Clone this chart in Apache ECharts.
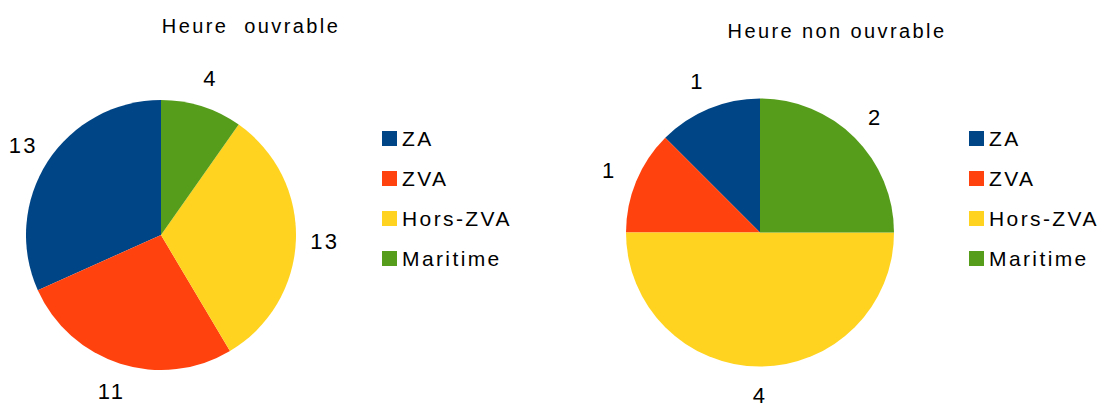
<!DOCTYPE html>
<html>
<head>
<meta charset="utf-8">
<script src="https://cdn.jsdelivr.net/npm/echarts@6/dist/echarts.min.js"></script>
<style>
  html, body { margin: 0; padding: 0; background: #fff; }
  #chart { width: 1105px; height: 403px; }
  /* le rendu d'origine a un texte plus espacé */
  #chart text { letter-spacing: 2.4px; }
</style>
</head>
<body>
<div id="chart"></div>
<script>
const categories = ['ZA', 'ZVA', 'Hors-ZVA', 'Maritime']
const heureOuvrable = [13, 11, 13, 4]
const heureNonOuvrable = [1, 1, 4, 2]
const titles = ['Heure  ouvrable', 'Heure non ouvrable']

const colors = ['#004586', '#ff420e', '#ffd320', '#579d1c']
const font = '"Liberation Sans", Arial, sans-serif'

const chart = echarts.init(document.getElementById('chart'), null, { renderer: 'svg' })

const toData = values => categories.map((name, i) => ({ name, value: values[i] }))

// le camembert visible
const pieSeries = (values, center, radius) => ({
  type: 'pie',
  center: center,
  radius: radius,
  startAngle: 90,
  clockwise: false,
  animation: false,
  itemStyle: { borderWidth: 0 },
  emphasis: { disabled: true },
  label: { show: false },
  labelLine: { show: false },
  data: toData(values)
})

// anneau invisible autour, seulement pour placer les valeurs
const labelRing = (values, center, radius) => ({
  type: 'pie',
  center: center,
  radius: [radius, radius + 52],
  startAngle: 90,
  clockwise: false,
  animation: false,
  silent: true,
  legendHoverLink: false,
  itemStyle: { color: 'rgba(0,0,0,0)', borderWidth: 0 },
  emphasis: { disabled: true },
  label: {
    show: true,
    position: 'inside',
    formatter: '{c}',
    color: '#000',
    fontSize: 22,
    fontFamily: font
  },
  labelLine: { show: false },
  data: toData(values)
})

const legendBase = {
  orient: 'vertical',
  top: 128,
  padding: 0,
  icon: 'rect',
  itemWidth: 15,
  itemHeight: 15,
  itemGap: 19,
  selectedMode: false,
  data: categories,
  textStyle: { color: '#000', fontSize: 21, lineHeight: 20, fontFamily: font }
}

const titleBase = {
  padding: 0,
  textAlign: 'center',
  textStyle: { color: '#000', fontSize: 20, fontWeight: 'normal', fontFamily: font }
}

const option = {
  color: colors,
  animation: false,
  title: [
    Object.assign({}, titleBase, { text: titles[0], left: 251, top: 16 }),
    Object.assign({}, titleBase, { text: titles[1], left: 837, top: 21 })
  ],
  legend: [
    Object.assign({}, legendBase, { left: 382 }),
    Object.assign({}, legendBase, { left: 969 })
  ],
  series: [
    pieSeries(heureOuvrable, [161, 235], 135),
    pieSeries(heureNonOuvrable, [760, 232.5], 134),
    labelRing(heureOuvrable, [161, 235], 135),
    labelRing(heureNonOuvrable, [760, 232.5], 134)
  ]
}

chart.setOption(option)
</script>
</body>
</html>
